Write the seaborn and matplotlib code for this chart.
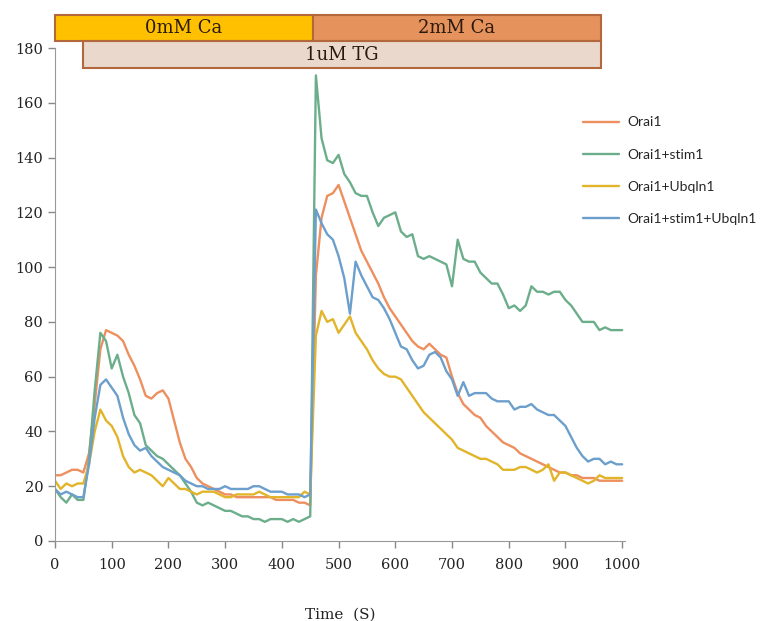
import numpy as np
import pandas as pd
import matplotlib
matplotlib.use("Agg")
import matplotlib.pyplot as plt
from matplotlib.patches import Rectangle
import seaborn as sns

# sampling times (s)
time_s = list(range(0, 1001, 10))

orai1 = [24, 24, 25, 26, 26, 25, 32, 50, 70, 77,
         76, 75, 73, 68, 64, 59, 53, 52, 54, 55,
         52, 44, 36, 30, 27, 23, 21, 20, 19, 18,
         17, 17, 16, 16, 16, 16, 16, 16, 16, 15,
         15, 15, 15, 14, 14, 13, 97, 118, 126, 127,
         130, 124, 118, 112, 106, 102, 98, 94, 89, 85,
         82, 79, 76, 73, 71, 70, 72, 70, 68, 67,
         60, 54, 50, 48, 46, 45, 42, 40, 38, 36,
         35, 34, 32, 31, 30, 29, 28, 27, 26, 25,
         25, 24, 24, 23, 23, 23, 22, 22, 22, 22,
         22]

orai1_stim1 = [19, 16, 14, 17, 15, 15, 30, 55, 76, 73,
               63, 68, 60, 54, 46, 43, 35, 33, 31, 30,
               28, 26, 24, 21, 18, 14, 13, 14, 13, 12,
               11, 11, 10, 9, 9, 8, 8, 7, 8, 8,
               8, 7, 8, 7, 8, 9, 170, 147, 139, 138,
               141, 134, 131, 127, 126, 126, 120, 115, 118, 119,
               120, 113, 111, 112, 104, 103, 104, 103, 102, 101,
               93, 110, 103, 102, 102, 98, 96, 94, 94, 90,
               85, 86, 84, 86, 93, 91, 91, 90, 91, 91,
               88, 86, 83, 80, 80, 80, 77, 78, 77, 77,
               77]

orai1_ubqln1 = [22, 19, 21, 20, 21, 21, 28, 40, 48, 44,
                42, 38, 31, 27, 25, 26, 25, 24, 22, 20,
                23, 21, 19, 19, 18, 17, 18, 18, 18, 17,
                16, 16, 17, 17, 17, 17, 18, 17, 16, 16,
                16, 16, 16, 16, 18, 17, 75, 84, 80, 81,
                76, 79, 82, 76, 73, 70, 66, 63, 61, 60,
                60, 59, 56, 53, 50, 47, 45, 43, 41, 39,
                37, 34, 33, 32, 31, 30, 30, 29, 28, 26,
                26, 26, 27, 27, 26, 25, 26, 28, 22, 25,
                25, 24, 23, 22, 21, 22, 24, 23, 23, 23,
                23]

orai1_stim1_ubqln1 = [19, 17, 18, 17, 16, 16, 28, 45, 57, 59,
                      56, 53, 45, 39, 35, 33, 34, 31, 29, 27,
                      26, 25, 24, 22, 21, 20, 20, 19, 19, 19,
                      20, 19, 19, 19, 19, 20, 20, 19, 18, 18,
                      18, 17, 17, 17, 16, 17, 121, 116, 112, 110,
                      104, 96, 83, 102, 97, 93, 89, 88, 85, 81,
                      76, 71, 70, 66, 63, 64, 68, 69, 67, 62,
                      59, 53, 58, 53, 54, 54, 54, 52, 51, 51,
                      51, 48, 49, 49, 50, 48, 47, 46, 46, 44,
                      42, 38, 34, 31, 29, 30, 30, 28, 29, 28,
                      28]

series_names = ["Orai1", "Orai1+stim1", "Orai1+Ubqln1", "Orai1+stim1+Ubqln1"]
series_colors = ["#ED8F5E", "#6CAE8B", "#E2B42A", "#6C9FCB"]

# treatment bars above the plot: (label, start, end)
calcium_phases = [("0mM Ca", 0, 455), ("2mM Ca", 455, 962)]
tg_phase = ("1uM TG", 49, 962)

df = pd.DataFrame({"time": time_s,
                   "Orai1": orai1,
                   "Orai1+stim1": orai1_stim1,
                   "Orai1+Ubqln1": orai1_ubqln1,
                   "Orai1+stim1+Ubqln1": orai1_stim1_ubqln1})
long_df = df.melt(id_vars="time", var_name="series", value_name="value")

sns.set_style("ticks")
plt.rcParams["font.family"] = ["DejaVu Serif"]

fig = plt.figure(figsize=(7.62, 6.21), dpi=100)
ax = fig.add_axes([55 / 762, 1 - 541 / 621, 570 / 762, 493 / 621])

sns.lineplot(data=long_df, x="time", y="value", hue="series",
             hue_order=series_names, palette=series_colors,
             linewidth=1.7, ax=ax)

ax.set_xlim(0, 1005)
ax.set_ylim(0, 180)
ax.set_xticks(range(0, 1001, 100))
ax.set_yticks(range(0, 181, 20))
ax.tick_params(axis="both", colors="#888888", labelcolor="#222222",
               labelsize=10.5, length=5, width=1)
ax.tick_params(axis="x", pad=7)
for lab in ax.get_xticklabels() + ax.get_yticklabels():
    lab.set_family("DejaVu Serif")
sns.despine(ax=ax)
for side in ["left", "bottom"]:
    ax.spines[side].set_color("#999999")
ax.set_ylabel("")
ax.set_xlabel("Time  (S)", fontsize=11, labelpad=26, color="#222222")

# legend
handles, labels = ax.get_legend_handles_labels()
ax.legend(handles, labels, loc="upper left",
          bbox_to_anchor=(570 / 762, 1 - 104 / 621),
          bbox_transform=fig.transFigure, frameon=False,
          prop={"family": "Lato", "size": 10}, labelspacing=1.45,
          handlelength=2.6, handletextpad=0.6)

# treatment bars
bar_colors = ["#FFC000", "#E5925C"]
edge = "#B2683C"
for (label, x0, x1), fc in zip(calcium_phases, bar_colors):
    ax.add_patch(Rectangle((x0, 182.5), x1 - x0, 9.5, facecolor=fc,
                           edgecolor=edge, linewidth=1.5, clip_on=False, zorder=5))
    ax.text((x0 + x1) / 2, 187.2, label, ha="center", va="center",
            fontsize=13, color="#2A1A0E", family="DejaVu Serif", zorder=6)
label, x0, x1 = tg_phase
ax.add_patch(Rectangle((x0, 172.8), x1 - x0, 9.7, facecolor="#EAD8CC",
                       edgecolor=edge, linewidth=1.5, clip_on=False, zorder=5))
ax.text((x0 + x1) / 2, 177.6, label, ha="center", va="center",
        fontsize=13, color="#2A1A0E", family="DejaVu Serif", zorder=6)

fig.savefig("out.png", dpi=100)
